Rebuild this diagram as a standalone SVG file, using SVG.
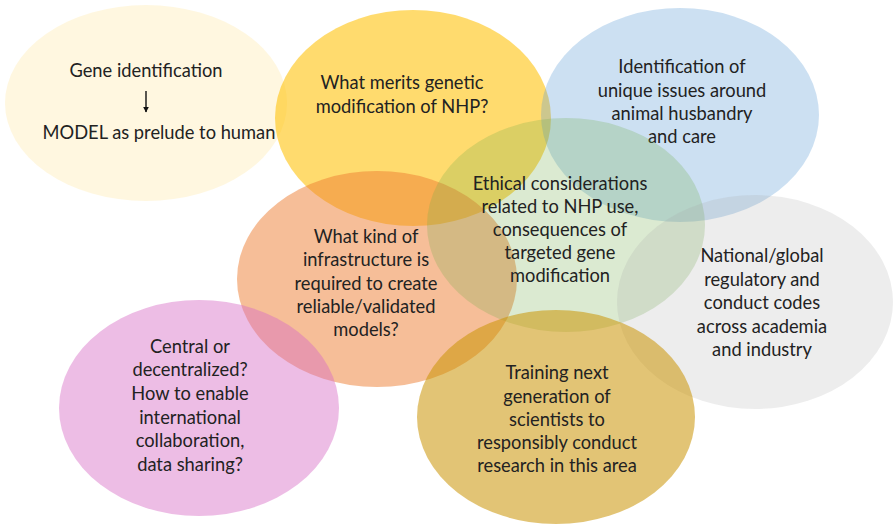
<svg xmlns="http://www.w3.org/2000/svg" width="893" height="527" viewBox="0 0 893 527">
  <style>
    .lbl { font-family: Lato, "Open Sans", "Liberation Sans", sans-serif; font-size: 18.3px; fill: #222222; text-anchor: middle; }
  </style>
  <defs>
    <marker id="arrowhead" viewBox="0 0 10 10" refX="9" refY="5" markerWidth="6" markerHeight="6" orient="auto" markerUnits="userSpaceOnUse">
      <path d="M0,0 L10,5 L0,10 z" fill="#111111"/>
    </marker>
  </defs>
  <rect width="893" height="527" fill="#ffffff"/>

  <g id="node-model">
    <ellipse cx="146" cy="103" rx="141" ry="98" fill="#FFE699" fill-opacity="0.3"/>
    <text class="lbl" x="146" y="77">Gene identification</text>
    <text class="lbl" x="159" y="139">MODEL as prelude to human</text>
  </g>

  <g id="node-merits">
    <ellipse cx="413" cy="118" rx="138" ry="108" fill="#FFC000" fill-opacity="0.57"/>
    <text class="lbl" x="402" y="89">What merits genetic</text>
    <text class="lbl" x="402" y="113">modification of NHP?</text>
  </g>

  <g id="node-husbandry">
    <ellipse cx="680" cy="115" rx="139" ry="107" fill="#5B9BD5" fill-opacity="0.31"/>
    <text class="lbl" x="682" y="73">Identification of</text>
    <text class="lbl" x="682" y="97">unique issues around</text>
    <text class="lbl" x="682" y="120">animal husbandry</text>
    <text class="lbl" x="682" y="143">and care</text>
  </g>

  <g id="node-infrastructure">
    <ellipse cx="377" cy="279" rx="140" ry="108" fill="#ED7D31" fill-opacity="0.5"/>
    <text class="lbl" x="366" y="243">What kind of</text>
    <text class="lbl" x="366" y="266">infrastructure is</text>
    <text class="lbl" x="366" y="290">required to create</text>
    <text class="lbl" x="366" y="313">reliable/validated</text>
    <text class="lbl" x="366" y="336">models?</text>
  </g>

  <g id="node-collaboration">
    <ellipse cx="199" cy="408" rx="140" ry="108" fill="#D76CC5" fill-opacity="0.45"/>
    <text class="lbl" x="190" y="353">Central or</text>
    <text class="lbl" x="190" y="376">decentralized?</text>
    <text class="lbl" x="190" y="400">How to enable</text>
    <text class="lbl" x="190" y="424">international</text>
    <text class="lbl" x="190" y="447">collaboration,</text>
    <text class="lbl" x="190" y="471">data sharing?</text>
  </g>

  <g id="node-ethics">
    <ellipse cx="566" cy="225" rx="139" ry="107" fill="#70AD47" fill-opacity="0.25"/>
    <text class="lbl" x="560" y="190">Ethical considerations</text>
    <text class="lbl" x="560" y="213">related to NHP use,</text>
    <text class="lbl" x="560" y="236">consequences of</text>
    <text class="lbl" x="560" y="259">targeted gene</text>
    <text class="lbl" x="560" y="282">modification</text>
  </g>

  <g id="node-regulatory">
    <ellipse cx="755" cy="302" rx="138" ry="107" fill="#A5A5A5" fill-opacity="0.2"/>
    <text class="lbl" x="762" y="262">National/global</text>
    <text class="lbl" x="762" y="286">regulatory and</text>
    <text class="lbl" x="762" y="309">conduct codes</text>
    <text class="lbl" x="762" y="333">across academia</text>
    <text class="lbl" x="762" y="356">and industry</text>
  </g>

  <g id="node-training">
    <ellipse cx="556" cy="417" rx="139" ry="107" fill="#CA9404" fill-opacity="0.55"/>
    <text class="lbl" x="557" y="379">Training next</text>
    <text class="lbl" x="557" y="403">generation of</text>
    <text class="lbl" x="557" y="426">scientists to</text>
    <text class="lbl" x="557" y="449">responsibly conduct</text>
    <text class="lbl" x="557" y="472">research in this area</text>
  </g>

  <g id="connectors">
    <line x1="146" y1="91" x2="146" y2="112" stroke="#111111" stroke-width="1.4" marker-end="url(#arrowhead)"/>
  </g>
</svg>
